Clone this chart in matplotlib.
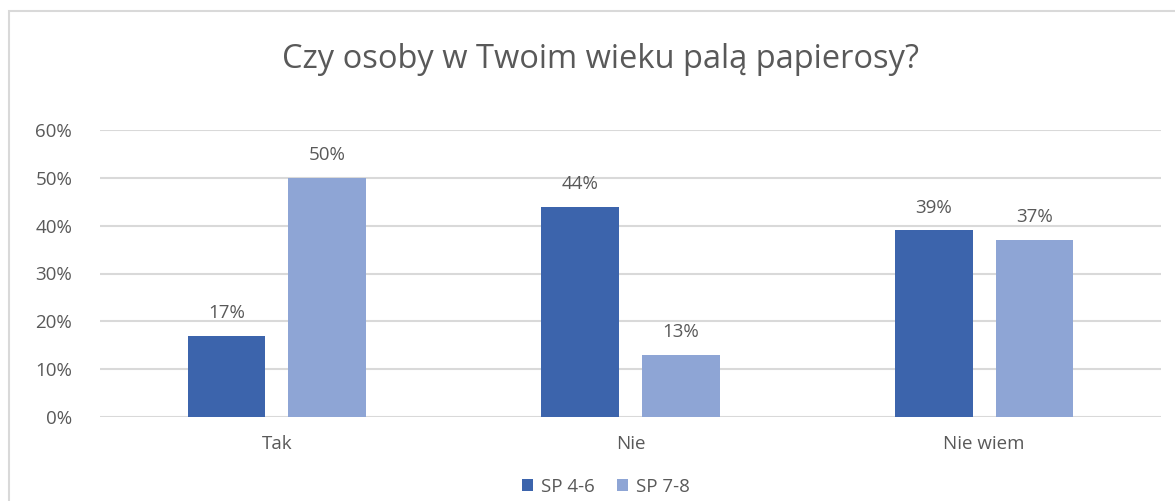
import numpy as np
import matplotlib.pyplot as plt
from matplotlib.patches import Rectangle
from matplotlib.ticker import PercentFormatter

categories = ['Tak', 'Nie', 'Nie wiem']
series_names = ['SP 4-6', 'SP 7-8']
sp46 = [17, 44, 39]
sp78 = [50, 13, 37]
colors = ['#3C64AC', '#8EA5D5']

plt.rcParams['font.family'] = ['Open Sans', 'DejaVu Sans']
text_color = '#595959'
grid_color = '#D9D9D9'

fig = plt.figure(figsize=(11.75, 5.01), dpi=100)
W, H = 1175, 501
# chart border (cropped on the right and bottom)
fig.patches.append(Rectangle((9 / W, -0.1), 1.2, 1 - 11 / H + 0.1,
                             transform=fig.transFigure, fill=False,
                             edgecolor=grid_color, linewidth=1.5))

ax = fig.add_axes([100 / W, 1 - 417 / H, (1161 - 100) / W, (417 - 130) / H])

x = np.arange(len(categories))
width = 0.22
offset = 0.1425
for vals, name, c, off in zip([sp46, sp78], series_names, colors, [-offset, offset]):
    bars = ax.bar(x + off, vals, width, color=c, label=name, zorder=3)
    for b, v in zip(bars, vals):
        ax.annotate(f'{v}%', (b.get_x() + b.get_width() / 2, v),
                    xytext=(0, 10), textcoords='offset points',
                    ha='center', va='bottom', fontsize=13.5, color=text_color)

ax.set_xlim(-0.5, 2.5)
ax.set_ylim(0, 60)
ax.set_yticks(range(0, 61, 10))
ax.yaxis.set_major_formatter(PercentFormatter(decimals=0))
ax.set_xticks(x)
ax.set_xticklabels(categories)
ax.tick_params(axis='both', length=0, labelsize=13.5, labelcolor=text_color)
ax.tick_params(axis='y', pad=20)
ax.tick_params(axis='x', pad=13)
ax.grid(axis='y', color=grid_color, linewidth=1.5, zorder=0)
for s in ax.spines.values():
    s.set_visible(False)

fig.text(600 / W, 1 - 60 / H, 'Czy osoby w Twoim wieku palą papierosy?',
         ha='center', va='center', fontsize=23.5, color=text_color)

fig.legend(loc='center', bbox_to_anchor=(606 / W, 1 - 487 / H), ncol=2,
           frameon=False, fontsize=13.5, labelcolor=text_color,
           handlelength=0.6, handleheight=0.6, handletextpad=0.4,
           columnspacing=1.2)

fig.savefig('out.png', dpi=100)
